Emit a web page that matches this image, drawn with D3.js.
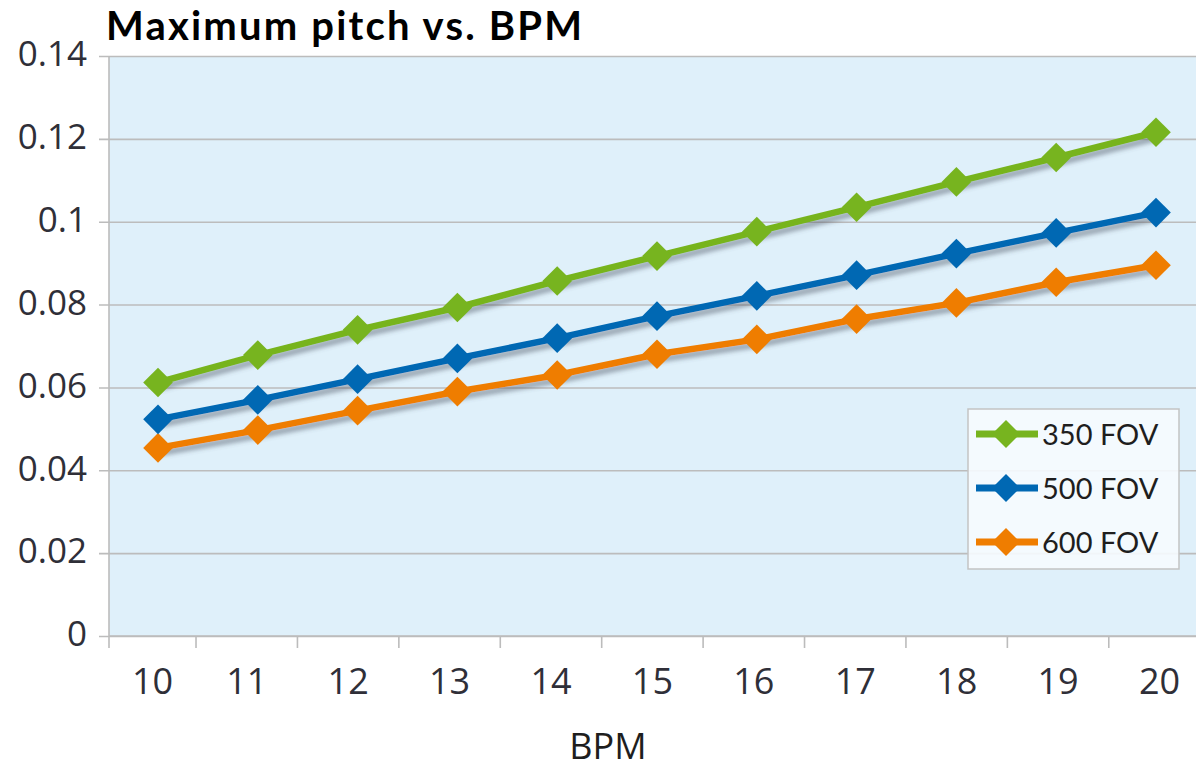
<!DOCTYPE html>
<html>
<head>
<meta charset="utf-8">
<script src="https://cdn.jsdelivr.net/npm/d3@7/dist/d3.min.js"></script>
<style>
  html, body { margin: 0; padding: 0; background: #ffffff; }
  svg { display: block; }
</style>
</head>
<body>
<svg id="chart" width="1196" height="770"></svg>
<script>
// Categories and series values
const bpm = [10, 11, 12, 13, 14, 15, 16, 17, 18, 19, 20];
const fov350 = [0.0612, 0.0678, 0.0739, 0.0793, 0.0857, 0.0917, 0.0976, 0.1035, 0.1096, 0.1155, 0.1216];
const fov500 = [0.0523, 0.0570, 0.0620, 0.0670, 0.0719, 0.0772, 0.0821, 0.0871, 0.0923, 0.0973, 0.1022];
const fov600 = [0.0454, 0.0497, 0.0544, 0.0590, 0.0630, 0.0680, 0.0716, 0.0765, 0.0804, 0.0854, 0.0895];
const seriesNames = ["350 FOV", "500 FOV", "600 FOV"];
const yTicks = [0, 0.02, 0.04, 0.06, 0.08, 0.1, 0.12, 0.14];

const seriesColors = ["#77b41f", "#0068b3", "#ef7d00"];
const series = [fov350, fov500, fov600].map((vals, i) => ({
  name: seriesNames[i],
  color: seriesColors[i],
  points: bpm.map((b, j) => ({ x: b, y: vals[j] }))
}));

const svg = d3.select("#chart");
const plot = { left: 109, right: 1196, top: 56, bottom: 636 };

// Scales: category bands for the axis, points for the markers
const xBand = d3.scaleBand()
  .domain(bpm)
  .range([94.6, 1210.2])
  .paddingInner(0).paddingOuter(0);
const xPt = d3.scalePoint().domain(bpm).range([158, 1156]);
const y = d3.scaleLinear().domain([0, 0.14]).range([plot.bottom, plot.top]);

// Shadow under the series lines
const defs = svg.append("defs");
const f = defs.append("filter").attr("id", "lineShadow")
  .attr("x", "-5%").attr("y", "-20%").attr("width", "110%").attr("height", "140%");
f.append("feDropShadow")
  .attr("dx", 3).attr("dy", 5).attr("stdDeviation", 2.2)
  .attr("flood-color", "#4a5560").attr("flood-opacity", 0.45);
defs.append("clipPath").attr("id", "plotClip")
  .append("rect").attr("x", plot.left).attr("y", plot.top - 20)
  .attr("width", plot.right - plot.left).attr("height", plot.bottom - plot.top + 20);

// Plot background
svg.append("rect")
  .attr("x", plot.left).attr("y", plot.top)
  .attr("width", plot.right - plot.left).attr("height", plot.bottom - plot.top)
  .attr("fill", "#dff0fa");

// Horizontal gridlines and y axis
const yAxis = d3.axisLeft(y)
  .tickValues(yTicks)
  .tickSize(-(plot.right - plot.left) - 10)
  .tickPadding(12)
  .tickFormat(d => d === 0 ? "0" : String(+d.toFixed(2)));
const gy = svg.append("g")
  .attr("transform", `translate(${plot.left - 10},0)`)
  .call(yAxis);
gy.select(".domain").remove();
gy.selectAll(".tick line").attr("stroke", "#bcbcbc").attr("stroke-width", 1.6);
gy.selectAll(".tick text")
  .attr("fill", "#2f2f38")
  .style("font-family", "'Open Sans', 'Noto Sans', sans-serif")
  .style("font-size", "35px")
  .attr("dy", "0.28em");

// Left axis line
svg.append("line")
  .attr("x1", plot.left).attr("x2", plot.left)
  .attr("y1", plot.top).attr("y2", plot.bottom + 12)
  .attr("stroke", "#bcbcbc").attr("stroke-width", 1.6);

// X axis: tick marks at band edges, labels centred in the visible part of each band
const gx = svg.append("g").attr("transform", `translate(0,${plot.bottom})`);
gx.append("line")
  .attr("x1", plot.left).attr("x2", plot.right)
  .attr("y1", 0).attr("y2", 0)
  .attr("stroke", "#bcbcbc").attr("stroke-width", 1.6);
gx.selectAll("line.xt")
  .data(bpm.slice(1))
  .join("line")
  .attr("class", "xt")
  .attr("x1", d => xBand(d)).attr("x2", d => xBand(d))
  .attr("y1", 0).attr("y2", 12)
  .attr("stroke", "#bcbcbc").attr("stroke-width", 1.6);
gx.selectAll("text.xl")
  .data(bpm)
  .join("text")
  .attr("class", "xl")
  .attr("x", d => (Math.max(xBand(d), plot.left) + xBand(d) + xBand.bandwidth()) / 2)
  .attr("y", 58)
  .attr("text-anchor", "middle")
  .attr("fill", "#2f2f38")
  .style("font-family", "'Open Sans', 'Noto Sans', sans-serif")
  .style("font-size", "36px")
  .text(d => d);

// Axis title
svg.append("text")
  .attr("x", 608).attr("y", 759)
  .attr("text-anchor", "middle")
  .attr("fill", "#1e1e1e")
  .style("font-family", "'Open Sans', 'Noto Sans', sans-serif")
  .style("font-size", "36px")
  .text("BPM");

// Series lines and diamond markers
const line = d3.line().x(d => xPt(d.x)).y(d => y(d.y));
const diamond = d3.symbol().type(d3.symbolDiamond2).size(560);
const gs = svg.append("g").attr("clip-path", "url(#plotClip)");
series.slice().reverse().forEach(s => {
  gs.append("path")
    .datum(s.points)
    .attr("d", line)
    .attr("fill", "none")
    .attr("stroke", s.color)
    .attr("stroke-width", 6.5)
    .attr("filter", "url(#lineShadow)");
  gs.selectAll(null)
    .data(s.points)
    .join("path")
    .attr("transform", d => `translate(${xPt(d.x)},${y(d.y)})`)
    .attr("d", diamond)
    .attr("fill", s.color);
});

// Legend
const lg = svg.append("g").attr("transform", "translate(968,409)");
lg.append("rect")
  .attr("width", 211).attr("height", 160)
  .attr("fill", "#f6fbfe").attr("fill-opacity", 0.9)
  .attr("stroke", "#c3c3c3").attr("stroke-width", 1.5);
const legendDiamond = d3.symbol().type(d3.symbolDiamond2).size(500);
series.forEach((s, i) => {
  const cy = 25 + i * 54;
  lg.append("line")
    .attr("x1", 8).attr("x2", 70)
    .attr("y1", cy).attr("y2", cy)
    .attr("stroke", s.color).attr("stroke-width", 7);
  lg.append("path")
    .attr("transform", `translate(38,${cy})`)
    .attr("d", legendDiamond)
    .attr("fill", s.color);
  lg.append("text")
    .attr("x", 74).attr("y", cy + 11)
    .attr("fill", "#1e1e1e")
    .style("font-family", "Lato, 'Open Sans', sans-serif")
    .style("font-size", "29px")
    .text(s.name);
});

// Chart title, letter-spaced out to its measured width
const titleText = "Maximum pitch vs. BPM";
const title = svg.append("text")
  .attr("x", 106).attr("y", 40)
  .attr("fill", "#000")
  .style("font-family", "Lato, 'Open Sans', sans-serif")
  .style("font-weight", "bold")
  .style("font-size", "40px")
  .text(titleText);
const tw = title.node().getComputedTextLength();
const spacing = Math.max(0, (476 - tw) / (titleText.length - 1));
title.style("letter-spacing", spacing.toFixed(2) + "px");
</script>
</body>
</html>
